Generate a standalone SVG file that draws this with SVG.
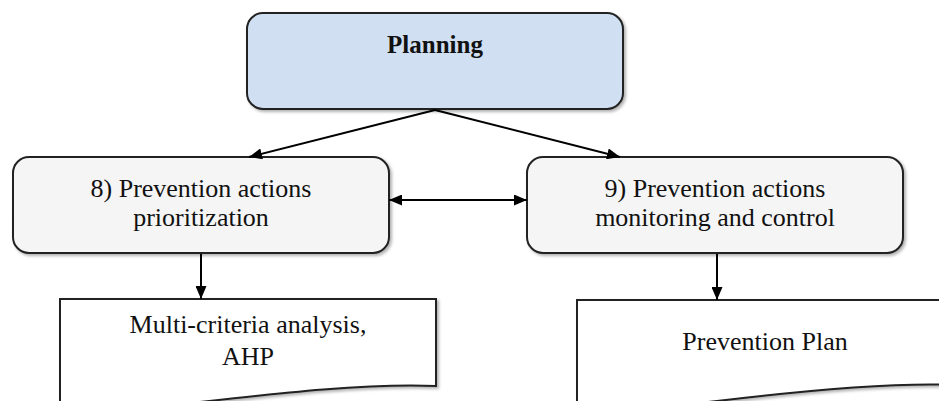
<svg xmlns="http://www.w3.org/2000/svg" width="939" height="401" viewBox="0 0 939 401">
  <defs>
    <filter id="sh" x="-10%" y="-10%" width="120%" height="130%">
      <feDropShadow dx="2" dy="2" stdDeviation="1.5" flood-color="#000" flood-opacity="0.3"/>
    </filter>
    <marker id="ah" viewBox="0 0 13 11" refX="13" refY="5.5" markerWidth="13" markerHeight="11" markerUnits="userSpaceOnUse" orient="auto-start-reverse">
      <path d="M0,0 L13,5.5 L0,11 Z" fill="#000"/>
    </marker>
    <style>
      .box { stroke: #222; stroke-width: 2; filter: url(#sh); }
      .proc { fill: #f5f5f5; }
      .doc { fill: #ffffff; }
      .t { font-family: "Liberation Serif", "Times New Roman", serif; font-size: 26px; fill: #111; text-anchor: middle; }
      .b { font-weight: bold; font-size: 25px; }
      .conn { stroke: #000; stroke-width: 2; fill: none; marker-end: url(#ah); }
    </style>
  </defs>
  <rect width="939" height="401" fill="#fff"/>

  <g id="planning">
    <rect class="box" x="247" y="13" width="376" height="96" rx="16" fill="#d0e0f2"/>
    <text class="t b" x="435" y="53">Planning</text>
  </g>

  <g id="prioritization">
    <rect class="box proc" x="13" y="157" width="376" height="96" rx="16"/>
    <text class="t" x="201" y="197">8) Prevention actions</text>
    <text class="t" x="201" y="226">prioritization</text>
  </g>

  <g id="monitoring">
    <rect class="box proc" x="527" y="157" width="376" height="96" rx="16"/>
    <text class="t" x="715" y="197">9) Prevention actions</text>
    <text class="t" x="715" y="226">monitoring and control</text>
  </g>

  <g id="mca">
    <path class="box doc" d="M60,299 H436 V386 C 370,383 280,393 200,402 C 150,408 100,412 60,412 Z"/>
    <text class="t" x="248" y="333">Multi-criteria analysis,</text>
    <text class="t" x="248" y="365">AHP</text>
  </g>

  <g id="plan">
    <path class="box doc" d="M577,300 H955 V385 C 890,382 800,391 717,401 C 667,407 617,411 577,411 Z"/>
    <text class="t" x="765" y="350">Prevention Plan</text>
  </g>

  <g id="connectors">
    <line class="conn" x1="435" y1="110" x2="249" y2="157"/>
    <line class="conn" x1="435" y1="110" x2="620" y2="157"/>
    <line class="conn" x1="389" y1="200" x2="527" y2="200" marker-start="url(#ah)"/>
    <line class="conn" x1="201" y1="254" x2="201" y2="299"/>
    <line class="conn" x1="717" y1="254" x2="717" y2="300"/>
  </g>
</svg>
